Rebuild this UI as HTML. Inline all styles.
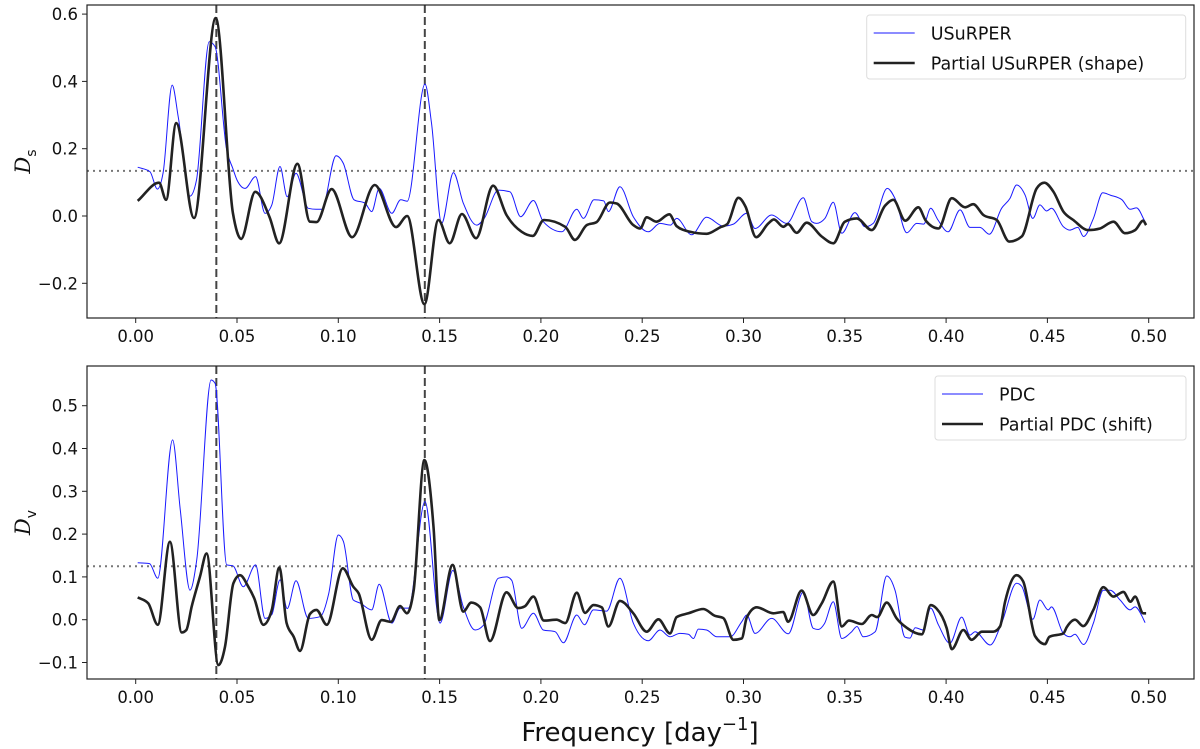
<!DOCTYPE html>
<html><head><meta charset="utf-8"><style>
html,body{margin:0;padding:0;background:#fff;}
svg{display:block;font-family:"DejaVu Sans","Liberation Sans",sans-serif;}
</style></head><body>
<svg id="chart" width="1200" height="749" viewBox="0 0 1200 749" xmlns="http://www.w3.org/2000/svg"></svg>
<script>
// ---- data ----
const xTicks = [0.00,0.05,0.10,0.15,0.20,0.25,0.30,0.35,0.40,0.45,0.50];
const topYTicks = [-0.2,0.0,0.2,0.4,0.6];
const botYTicks = [-0.1,0.0,0.1,0.2,0.3,0.4,0.5];
const markerFreqs = [0.0398,0.1427];
const topThreshold = 0.134;
const botThreshold = 0.125;

const topBlueF = [0.001,0.007,0.0107,0.0135,0.018,0.021,0.0268,0.030,0.0363,0.0392,0.0449,0.0479,0.050,0.054,0.0592,0.0638,0.0672,0.0712,0.0748,0.0791,0.0852,0.089,0.0918,0.0989,0.1025,0.1078,0.1132,0.1165,0.1202,0.1264,0.1308,0.134,0.1428,0.146,0.151,0.1568,0.1617,0.1683,0.172,0.179,0.1847,0.190,0.1963,0.2012,0.2103,0.2177,0.221,0.2262,0.231,0.2333,0.239,0.2456,0.253,0.2588,0.264,0.267,0.2744,0.2818,0.290,0.295,0.3016,0.3057,0.3139,0.3213,0.3295,0.3337,0.336,0.3402,0.3443,0.3485,0.355,0.360,0.364,0.371,0.3748,0.3806,0.3855,0.389,0.3924,0.396,0.401,0.4069,0.4118,0.4167,0.4213,0.4274,0.4315,0.4348,0.439,0.4428,0.4463,0.4496,0.452,0.4579,0.461,0.465,0.4678,0.4727,0.4773,0.481,0.4868,0.4908,0.494,0.4982];
const topBlueV = [0.145,0.132,0.080,0.128,0.389,0.295,0.059,0.107,0.518,0.503,0.196,0.142,0.107,0.082,0.117,0.008,0.033,0.147,0.057,0.127,0.023,0.020,0.020,0.179,0.156,0.048,0.038,0.013,0.082,0.008,0.048,0.044,0.392,0.276,-0.022,0.129,0.038,-0.027,-0.007,0.077,0.072,-0.002,0.046,-0.017,-0.047,0.020,-0.007,0.048,0.045,0.013,0.087,-0.002,-0.047,-0.022,-0.027,-0.007,-0.056,-0.004,-0.030,-0.024,0.008,-0.037,0.003,-0.022,0.054,-0.017,-0.022,-0.007,0.041,-0.051,0.010,-0.032,-0.022,0.082,0.052,-0.050,-0.022,-0.024,0.023,-0.012,-0.047,0.018,-0.034,-0.034,-0.054,0.023,0.052,0.092,0.062,-0.007,0.033,0.015,0.023,-0.032,-0.042,-0.034,-0.061,-0.007,0.069,0.062,0.048,0.020,0.024,-0.017];

const topBlackF = [0.001,0.0115,0.015,0.020,0.0288,0.0395,0.048,0.052,0.059,0.066,0.0708,0.0798,0.086,0.0893,0.0967,0.1068,0.118,0.1285,0.134,0.1425,0.1494,0.155,0.161,0.168,0.1764,0.183,0.1905,0.196,0.2015,0.212,0.2168,0.2226,0.2275,0.2341,0.2374,0.2456,0.249,0.2522,0.257,0.2634,0.267,0.2736,0.2818,0.2884,0.292,0.2975,0.301,0.3062,0.3123,0.315,0.3196,0.322,0.3262,0.3312,0.3386,0.3443,0.350,0.3559,0.3633,0.3698,0.374,0.3798,0.3863,0.390,0.3962,0.4028,0.4094,0.4134,0.4184,0.425,0.4312,0.4373,0.4447,0.4485,0.453,0.4579,0.4628,0.4702,0.476,0.4826,0.4883,0.4933,0.4973,0.4987];
const topBlackV = [0.045,0.099,0.048,0.276,-0.006,0.588,0.009,-0.068,0.072,-0.002,-0.081,0.155,-0.017,-0.018,0.080,-0.063,0.092,-0.033,0.0,-0.262,-0.012,-0.081,0.006,-0.066,0.090,0.003,-0.047,-0.059,-0.012,-0.032,-0.071,-0.027,-0.018,0.040,0.037,-0.027,-0.037,-0.004,-0.017,0.005,-0.030,-0.047,-0.053,-0.034,-0.024,0.054,0.028,-0.063,-0.022,-0.010,-0.032,-0.024,-0.050,-0.020,-0.061,-0.081,-0.017,-0.007,-0.042,0.030,0.048,-0.014,0.026,-0.014,-0.037,0.053,0.026,0.035,0.003,-0.012,-0.076,-0.061,0.082,0.099,0.072,0.013,-0.012,-0.042,-0.037,-0.017,-0.051,-0.042,-0.014,-0.027];

const botBlueF = [0.001,0.0068,0.0109,0.0182,0.022,0.0268,0.0301,0.0372,0.0392,0.0449,0.048,0.0531,0.0592,0.0638,0.0672,0.0712,0.0748,0.0791,0.0852,0.091,0.0953,0.100,0.1025,0.1074,0.1107,0.1165,0.1202,0.1264,0.1305,0.1346,0.1428,0.1502,0.1565,0.1617,0.1675,0.1716,0.179,0.1831,0.1856,0.1905,0.1963,0.2012,0.207,0.2111,0.2177,0.2215,0.2259,0.2325,0.239,0.2456,0.253,0.2588,0.2637,0.2686,0.2728,0.2753,0.2777,0.2818,0.2868,0.2934,0.2991,0.3016,0.3057,0.3139,0.3221,0.3295,0.3344,0.3369,0.340,0.3443,0.3485,0.3534,0.356,0.3591,0.365,0.3707,0.3748,0.3797,0.3822,0.3847,0.3888,0.3924,0.3962,0.4019,0.4077,0.4118,0.4143,0.4217,0.4274,0.4348,0.4373,0.4428,0.4463,0.4504,0.452,0.4579,0.4612,0.4636,0.4678,0.4727,0.4776,0.481,0.4859,0.4908,0.4933,0.4966,0.4982];
const botBlueV = [0.133,0.131,0.097,0.420,0.256,0.069,0.139,0.560,0.552,0.128,0.126,0.077,0.128,0.003,0.012,0.093,0.026,0.091,0.003,0.007,0.062,0.198,0.183,0.046,0.039,0.023,0.083,-0.008,0.027,0.027,0.276,-0.008,0.115,0.030,-0.024,-0.013,0.097,0.100,0.092,-0.020,0.015,-0.024,-0.028,-0.054,0.011,-0.012,0.023,0.020,0.097,-0.008,-0.049,-0.024,-0.040,-0.032,-0.034,-0.044,-0.022,-0.024,-0.040,-0.040,-0.005,0.011,-0.032,0.003,-0.033,0.065,-0.020,-0.023,-0.009,0.042,-0.044,-0.028,-0.016,-0.040,-0.028,0.102,0.069,-0.041,-0.043,-0.019,-0.024,0.027,-0.012,-0.055,0.006,-0.036,-0.028,-0.059,-0.008,0.085,0.078,0.001,0.046,0.023,0.030,-0.032,-0.040,-0.034,-0.058,-0.008,0.069,0.069,0.046,0.023,0.030,0.009,-0.007];

const botBlackF = [0.001,0.0062,0.0109,0.0169,0.0227,0.025,0.0276,0.0317,0.035,0.0408,0.0441,0.0482,0.0515,0.0556,0.0585,0.063,0.0672,0.0709,0.0745,0.078,0.0811,0.086,0.0892,0.0943,0.1022,0.1074,0.110,0.1165,0.1214,0.126,0.1305,0.1339,0.1372,0.1425,0.147,0.1499,0.1564,0.1617,0.1656,0.170,0.1749,0.183,0.1888,0.192,0.1963,0.2015,0.2077,0.212,0.2177,0.2218,0.2259,0.230,0.2333,0.239,0.2456,0.2522,0.258,0.2637,0.267,0.2728,0.2802,0.2859,0.290,0.295,0.2991,0.3016,0.3065,0.3147,0.3196,0.322,0.3287,0.3344,0.3386,0.3443,0.3485,0.352,0.3584,0.3633,0.366,0.3707,0.3756,0.3806,0.388,0.3924,0.3953,0.4003,0.4028,0.4085,0.4126,0.4176,0.4233,0.4266,0.4291,0.4348,0.438,0.4439,0.4488,0.451,0.4579,0.4595,0.4636,0.4677,0.4727,0.4776,0.4826,0.4875,0.491,0.4933,0.4973,0.4987];
const botBlackV = [0.052,0.038,-0.012,0.182,-0.030,-0.024,0.030,0.100,0.155,-0.106,-0.063,0.085,0.104,0.077,0.050,-0.012,0.023,0.122,-0.008,-0.040,-0.073,0.013,0.023,-0.012,0.120,0.077,0.062,-0.047,-0.001,-0.005,0.032,0.015,0.069,0.373,0.217,-0.001,0.128,0.019,0.040,0.029,-0.050,0.064,0.027,0.031,0.054,-0.002,0.0,-0.008,0.063,0.016,0.034,0.029,-0.016,0.044,0.015,-0.028,0.001,-0.032,0.006,0.015,0.025,0.009,0.004,-0.047,-0.044,0.005,0.029,0.015,0.018,-0.005,0.068,0.011,0.038,0.089,-0.016,-0.002,-0.010,0.011,0.006,0.040,0.003,-0.019,-0.034,0.034,0.026,-0.020,-0.069,-0.024,-0.047,-0.028,-0.028,-0.016,0.042,0.104,0.090,-0.038,-0.057,-0.040,-0.032,-0.018,0.0,-0.015,0.023,0.076,0.054,0.065,0.042,0.054,0.015,0.015];

// ---- layout ----
const NS = "http://www.w3.org/2000/svg";
const svg = document.getElementById('chart');
const AX_L = 87, AX_R = 1194;
const X0 = 135.7, XS = 2026;
const xPix = f => X0 + f*XS;
const panels = [
  {top:5, bot:318, zero:216, ys:336.5, ticks:topYTicks, thr:topThreshold, bf:topBlueF, bv:topBlueV, kf:topBlackF, kv:topBlackV, name:'top',
   ylab:'D', ysub:'s', leg:['USuRPER','Partial USuRPER (shape)'], lx:866.7, lw:319, ly:15},
  {top:366, bot:679, zero:619.7, ys:428, ticks:botYTicks, thr:botThreshold, bf:botBlueF, bv:botBlueV, kf:botBlackF, kv:botBlackV, name:'bottom',
   ylab:'D', ysub:'v', leg:['PDC','Partial PDC (shift)'], lx:935, lw:251, ly:376}
];
function mk(tag, attrs, parent){
  const el = document.createElementNS(NS, tag);
  for (const k in attrs) el.setAttribute(k, attrs[k]);
  (parent||svg).appendChild(el);
  return el;
}
// monotone cubic (no overshoot at extrema)
function smoothPath(pts){
  const n = pts.length;
  const m = new Array(n);
  const s = [];
  for (let i=0;i<n-1;i++) s.push((pts[i+1][1]-pts[i][1])/(pts[i+1][0]-pts[i][0]));
  m[0]=s[0]; m[n-1]=s[n-2];
  for (let i=1;i<n-1;i++){
    if (s[i-1]*s[i] <= 0) m[i]=0;
    else {
      const h0=pts[i][0]-pts[i-1][0], h1=pts[i+1][0]-pts[i][0];
      const p=(s[i-1]*h1+s[i]*h0)/(h0+h1);
      m[i]=(Math.sign(s[i-1]))*Math.min(Math.abs(p),2*Math.abs(s[i-1]),2*Math.abs(s[i]));
    }
  }
  let d='M'+pts[0][0].toFixed(1)+','+pts[0][1].toFixed(1);
  for (let i=0;i<n-1;i++){
    const h=(pts[i+1][0]-pts[i][0])/3;
    d+=' C'+(pts[i][0]+h).toFixed(1)+','+(pts[i][1]+m[i]*h).toFixed(1)+' '+(pts[i+1][0]-h).toFixed(1)+','+(pts[i+1][1]-m[i+1]*h).toFixed(1)+' '+pts[i+1][0].toFixed(1)+','+pts[i+1][1].toFixed(1);
  }
  return d;
}
panels.forEach(P=>{
  const yPix = v => P.zero - v*P.ys;
  const g = mk('g',{});
  
  
  const clipId = 'clip-'+P.name;
  const cp = mk('clipPath',{id:clipId}, g);
  mk('rect',{x:AX_L,y:P.top,width:AX_R-AX_L,height:P.bot-P.top}, cp);
  const th = mk('line',{x1:AX_L,x2:AX_R,y1:yPix(P.thr),y2:yPix(P.thr),stroke:'#777','stroke-width':2,'stroke-dasharray':'2,4'}, g);
  
  
  markerFreqs.forEach(f=>{
    const ml = mk('line',{x1:xPix(f),x2:xPix(f),y1:P.top,y2:P.bot,stroke:'#444','stroke-width':2,'stroke-dasharray':'8,4'}, g);
    
    
  });
  const bp = P.bf.map((f,i)=>[xPix(f), yPix(P.bv[i])]);
  const kp = P.kf.map((f,i)=>[xPix(f), yPix(P.kv[i])]);
  const blue = mk('path',{d:smoothPath(bp),fill:'none',stroke:'#1a1aff','stroke-width':1,'clip-path':'url(#'+clipId+')','stroke-linejoin':'round'}, g);
  
  
  const black = mk('path',{d:smoothPath(kp),fill:'none',stroke:'#222','stroke-width':2.6,'clip-path':'url(#'+clipId+')','stroke-linejoin':'round'}, g);
  
  
  const fr = mk('rect',{x:AX_L,y:P.top,width:AX_R-AX_L,height:P.bot-P.top,fill:'none',stroke:'#222','stroke-width':1.2}, g);
  
  
  xTicks.forEach(t=>{
    const x = xPix(t);
    mk('line',{x1:x,x2:x,y1:P.bot,y2:P.bot+5,stroke:'#222','stroke-width':1}, g);
    const tx = mk('text',{x:x,y:P.bot+24,'text-anchor':'middle','font-size':16.5,fill:'#111'}, g);
    tx.textContent = t.toFixed(2);
    
    
  });
  P.ticks.forEach(t=>{
    const y = yPix(t);
    mk('line',{x1:AX_L-5,x2:AX_L,y1:y,y2:y,stroke:'#222','stroke-width':1}, g);
    const tx = mk('text',{x:AX_L-9,y:y+6,'text-anchor':'end','font-size':16.5,fill:'#111'}, g);
    tx.textContent = (t<0?'\u2212':'')+Math.abs(t).toFixed(1);
    
    
  });
  const cy = (P.top+P.bot)/2;
  const yl = mk('text',{x:0,y:0,transform:'translate(30,'+cy+') rotate(-90)','text-anchor':'middle','font-size':21,'font-style':'italic','font-family':'"DejaVu Serif","Liberation Serif",serif',fill:'#111'}, g);
  
  
  yl.textContent = P.ylab;
  const sub = mk('tspan',{dy:6,'font-size':14,'font-style':'normal','font-family':'"DejaVu Sans",sans-serif'}, yl);
  sub.textContent = P.ysub;
  const lg = mk('g',{}, g);
  
  
  mk('rect',{x:P.lx,y:P.ly,width:P.lw,height:64,rx:3,fill:'#fff','fill-opacity':0.85,stroke:'#ddd','stroke-width':1}, lg);
  const rows=[P.ly+18,P.ly+48];
  [['#1a1aff',1],['#222',2.6]].forEach((s,i)=>{
    const e = mk('g',{}, lg);
    
    
    mk('line',{x1:P.lx+7,x2:P.lx+48,y1:rows[i],y2:rows[i],stroke:s[0],'stroke-width':s[1]}, e);
    const t = mk('text',{x:P.lx+64,y:rows[i]+6.5,'font-size':17.5,fill:'#111'}, e);
    t.textContent = P.leg[i];
  });
});
const xl = mk('text',{x:640,y:741,'text-anchor':'middle','font-size':26,fill:'#111'});


xl.textContent = 'Frequency [day';
const sup = mk('tspan',{dy:-11,'font-size':18}, xl);
sup.textContent = '\u22121';
const close = mk('tspan',{dy:11}, xl);
close.textContent = ']';
</script>
</body></html>
